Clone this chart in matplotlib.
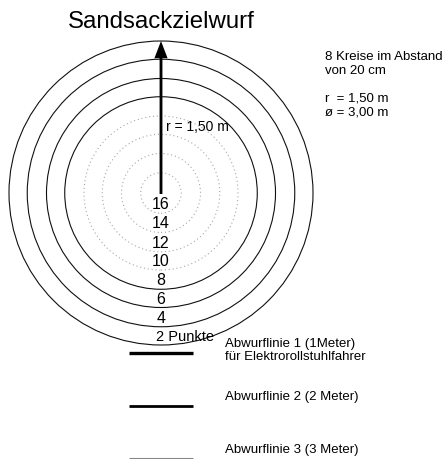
import matplotlib.pyplot as plt
from matplotlib.patches import Circle, FancyArrow

# Zielscheibe: 8 Kreise, Radien in Meter (aussen r = 1,50 m)
radii = [0.20, 0.39, 0.58, 0.76, 0.95, 1.13, 1.32, 1.50]
dotted = [True, True, True, True, False, False, False, False]
points = ['16', '14', '12', '10', '8', '6', '4', '2 Punkte']

info_lines = ['8 Kreise im Abstand', 'von 20 cm', '', 'r  = 1,50 m', 'ø = 3,00 m']

throw_labels = ['Abwurflinie 1 (1Meter)\nfür Elektrorollstuhlfahrer',
                'Abwurflinie 2 (2 Meter)',
                'Abwurflinie 3 (3 Meter)']
throw_y = [-1.58, -2.10, -2.62]
throw_lw = [2.4, 2.0, 0.8]
throw_color = ['black', 'black', '#888888']

PPM = 152 / 1.5  # Pixel pro Meter
NARROW = ['Liberation Sans Narrow', 'Liberation Sans', 'DejaVu Sans']


def main():
    fig = plt.figure(figsize=(4.44, 4.59), dpi=100)
    ax = fig.add_axes([0, 0, 1, 1])
    ax.set_xlim(-161 / PPM, (444 - 161) / PPM)
    ax.set_ylim((193 - 459) / PPM, 193 / PPM)
    ax.set_axis_off()

    for r, d in zip(radii, dotted):
        if d:
            c = Circle((0, 0), r, fill=False, ec='#a8a8a8', lw=0.8, ls=(0, (1, 2.5)))
        else:
            c = Circle((0, 0), r, fill=False, ec='#111111', lw=0.8)
        ax.add_patch(c)

    inner = [0] + radii[:-1]
    for i, lab in enumerate(points):
        y = -(inner[i] + radii[i]) / 2 - 0.01
        if lab.endswith('Punkte'):
            ax.text(-0.045, y, lab, ha='left', va='center', fontsize=10.5, family=NARROW)
        else:
            ax.text(0, y, lab, ha='center', va='center', fontsize=11.5, family=NARROW)

    ax.add_patch(FancyArrow(0, -0.01, 0, radii[-1] + 0.01, width=0.028, head_width=0.13,
                            head_length=0.17, length_includes_head=True,
                            color='black', lw=0))
    ax.text(0.05, 0.65, 'r = 1,50 m', ha='left', va='center', fontsize=10, family=NARROW)

    ax.text(0, 1.69, 'Sandsackzielwurf', ha='center', va='center', fontsize=17.3,
            family=['Liberation Sans', 'DejaVu Sans'])

    ax.text(1.62, 1.40, '\n'.join(info_lines), ha='left', va='top', fontsize=9.5,
            family=NARROW, linespacing=1.2)

    for lab, y, lw, col in zip(throw_labels, throw_y, throw_lw, throw_color):
        ax.plot([-0.316, 0.316], [y, y], color=col, lw=lw, solid_capstyle='butt')
        ty = y + 0.085 if '\n' not in lab else y + 0.03
        ax.text(0.63, ty, lab, ha='left', va='center', fontsize=9.5, family=NARROW,
                linespacing=1.1)

    fig.savefig('out.png', dpi=100, facecolor='white')


if __name__ == '__main__':
    main()
